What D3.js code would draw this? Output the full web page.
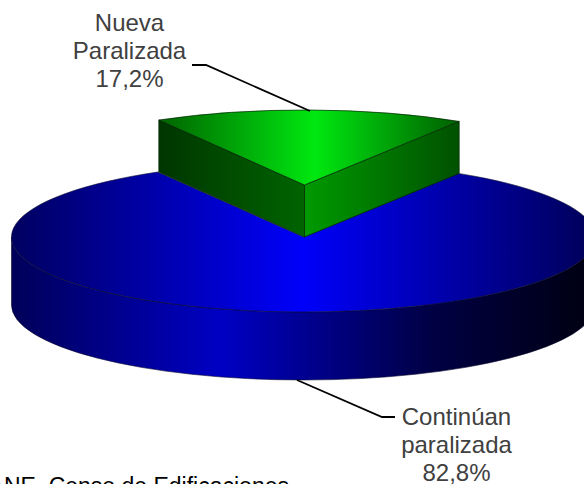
<!DOCTYPE html>
<html>
<head>
<meta charset="utf-8">
<script src="https://cdn.jsdelivr.net/npm/d3@7"></script>
<style>
  html, body { margin: 0; padding: 0; background: #fff; overflow: hidden; }
  svg { display: block; }
  text { font-family: "Liberation Sans", Arial, sans-serif; }
</style>
</head>
<body>
<div id="chart"></div>
<script>
const categories = ["Nueva Paralizada", "Continúan paralizada"];
const shares = [17.2, 82.8];
const labelLines = [["Nueva", "Paralizada", "17,2%"], ["Continúan", "paralizada", "82,8%"]];
const sourceNote = "Fuente: DANE. Censo de Edificaciones";

const width = 584, height = 484;

const svg = d3.select("#chart").append("svg")
    .attr("width", width)
    .attr("height", height);

const defs = svg.append("defs");

function addGradient(id, x1, x2, stops) {
  const g = defs.append("linearGradient")
      .attr("id", id)
      .attr("gradientUnits", "userSpaceOnUse")
      .attr("x1", x1).attr("x2", x2)
      .attr("y1", 0).attr("y2", 0);
  stops.forEach((s) => {
    g.append("stop").attr("offset", s[0]).attr("stop-color", s[1]);
  });
}

addGradient("blueTop", 11, 595, [[0, "#000060"], [0.25, "#0000ac"], [0.5, "#0000fa"], [0.75, "#0000a8"], [1, "#000058"]]);
addGradient("blueSide", 11, 595, [[0, "#000058"], [0.36, "#0000c4"], [0.72, "#000044"], [1, "#000010"]]);
addGradient("greenTop", 160, 458, [[0, "#006400"], [0.52, "#00e810"], [1, "#006000"]]);
addGradient("greenLeft", 160, 304, [[0, "#003600"], [1, "#006400"]]);
addGradient("greenRight", 304, 458, [[0, "#009a00"], [1, "#005200"]]);

// the pie starts near the middle of the small slice, so it sits at the back
const rotation = 0.018;
const pie = d3.pie().sort(null).value((d) => d)
    .startAngle(rotation - shares[0] / 100 * Math.PI)
    .endAngle(rotation + 2 * Math.PI - shares[0] / 100 * Math.PI);
const slices = pie(shares);

const rx = 292, ry = 75;
const blue = {cx: 303.5, cy: 237, depth: 68};
const green = {cx: 304.5, cy: 185, depth: 52};

function rim(c, a, dy = 0) {
  return [c.cx + rx * Math.sin(a), c.cy - ry * Math.cos(a) + dy];
}

function arcTo(c, a, large, sweep, dy = 0) {
  const p = rim(c, a, dy);
  return `A${rx},${ry} 0 ${large} ${sweep} ${p[0]},${p[1]}`;
}

const line = "#0a0a30";

// blue side wall, front half only
const blueA = slices[1];
svg.append("path")
    .attr("d", `M${rim(blue, Math.PI / 2)} ` + arcTo(blue, 3 * Math.PI / 2, 1, 1) +
      ` L${rim(blue, 3 * Math.PI / 2, blue.depth)} ` + arcTo(blue, Math.PI / 2, 1, 0, blue.depth) + "Z")
    .attr("fill", "url(#blueSide)")
    .attr("stroke", line).attr("stroke-width", 0.6);

// blue top
svg.append("path")
    .attr("d", `M${blue.cx},${blue.cy} L${rim(blue, blueA.startAngle)} ` +
      arcTo(blue, blueA.endAngle, 1, 1) + "Z")
    .attr("fill", "url(#blueTop)")
    .attr("stroke", line).attr("stroke-width", 0.6);

// green wedge
const greenA = slices[0];
const gl = rim(green, greenA.startAngle), gr = rim(green, greenA.endAngle);
const dark = "#002200";

svg.append("path")
    .attr("d", `M${gl} L${green.cx},${green.cy} L${green.cx},${green.cy + green.depth} L${gl[0]},${gl[1] + green.depth}Z`)
    .attr("fill", "url(#greenLeft)")
    .attr("stroke", dark).attr("stroke-width", 0.7);

svg.append("path")
    .attr("d", `M${gr} L${green.cx},${green.cy} L${green.cx},${green.cy + green.depth} L${gr[0]},${gr[1] + green.depth}Z`)
    .attr("fill", "url(#greenRight)")
    .attr("stroke", dark).attr("stroke-width", 0.7);

svg.append("path")
    .attr("d", `M${green.cx},${green.cy} L${gl} ` + arcTo(green, greenA.endAngle, 0, 1) + "Z")
    .attr("fill", "url(#greenTop)")
    .attr("stroke", dark).attr("stroke-width", 0.7);

// leader lines
const leaders = [
  [[192, 65], [206, 65], [310, 111]],
  [[297, 380], [382, 417], [395, 417]]
];
svg.selectAll("path.leader").data(leaders).enter().append("path")
    .attr("class", "leader")
    .attr("d", d3.line())
    .attr("fill", "none")
    .attr("stroke", "#000")
    .attr("stroke-width", 1.8);

// labels
const labelAnchors = [{x: 129.5, y: 31}, {x: 456.5, y: 425}];
labelLines.forEach((lines, i) => {
  svg.append("text")
      .attr("text-anchor", "middle")
      .attr("font-size", 24)
      .attr("fill", "#404040")
      .selectAll("tspan").data(lines).enter().append("tspan")
      .attr("x", labelAnchors[i].x)
      .attr("y", (d, j) => labelAnchors[i].y + j * 28)
      .text((d) => d);
});

// source note, clipped by the frame on the left and bottom as in the picture
svg.append("text")
    .attr("x", 289)
    .attr("y", 493.5)
    .attr("text-anchor", "end")
    .attr("font-size", 23)
    .attr("fill", "#000")
    .text(sourceNote);
</script>
</body>
</html>
